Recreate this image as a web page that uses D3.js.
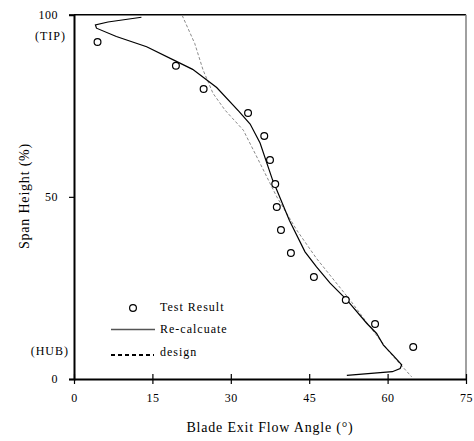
<!DOCTYPE html>
<html>
<head>
<meta charset="utf-8">
<script src="https://cdn.jsdelivr.net/npm/d3@7"></script>
<style>
  body { margin: 0; background: #fff; }
  text { font-family: "Liberation Serif", "Times New Roman", serif; fill: #000; }
</style>
</head>
<body>
<div id="chart"></div>
<script>
// test points: [angle, span]
var testAngle = [4.5, 19.5, 24.8, 33.3, 36.4, 37.5, 38.5, 38.8, 39.6, 41.5, 45.9, 52.0, 57.6, 64.9];
var testSpan  = [92.5, 86.0, 79.6, 73.0, 66.7, 60.1, 53.5, 47.2, 40.9, 34.6, 28.0, 21.7, 15.1, 8.8];

// re-calculated curve
var recalcAngle = [12.9, 6.5, 4.1, 4.3, 8.1, 13.9, 19.0, 22.7, 27.3, 31.6, 33.7, 35.6, 38.0, 38.8, 41.2, 44.2, 46.4, 49.0, 52.2, 56.0, 57.9, 59.2, 61.1, 62.7, 62.4, 60.9, 52.2];
var recalcSpan  = [99.3, 98.0, 97.2, 96.3, 94.0, 91.2, 87.6, 85.0, 80.0, 73.4, 70.0, 64.8, 54.6, 51.9, 43.6, 34.9, 30.8, 26.3, 21.7, 15.3, 12.5, 9.3, 6.4, 3.9, 2.9, 2.0, 1.0];

// design curve
var designAngle = [20.7, 23.1, 24.7, 26.6, 28.9, 32.4, 35.6, 38.8, 42.6, 46.4, 52.8, 56.6, 60.5, 64.6];
var designSpan  = [99.8, 92.1, 84.8, 78.4, 73.8, 68.3, 59.2, 50.0, 40.9, 33.1, 21.7, 14.4, 7.1, 0.6];

var xTicks = [0, 15, 30, 45, 60, 75];
var yTicks = [0, 50, 100];
var legendLabels = ["Test Result", "Re-calcuate", "design"];

var width = 474, height = 441;
var plotLeft = 74, plotRight = 466, plotTop = 14.7, plotBottom = 379;

var svg = d3.select("#chart").append("svg")
    .attr("width", width)
    .attr("height", height);

var x = d3.scaleLinear().domain([0, 75]).range([plotLeft, plotRight]);
var y = d3.scaleLinear().domain([0, 100]).range([plotBottom, plotTop]);

// frame: top black, right grey
svg.append("line")
    .attr("x1", plotLeft).attr("x2", plotRight)
    .attr("y1", plotTop).attr("y2", plotTop)
    .style("stroke", "#000").style("stroke-width", 1.5);
svg.append("line")
    .attr("x1", plotRight).attr("x2", plotRight)
    .attr("y1", plotTop).attr("y2", plotBottom)
    .style("stroke", "#808080").style("stroke-width", 1.5);

// x axis with crossing ticks
var xAxis = svg.append("g").attr("transform", "translate(0," + plotBottom + ")");
xAxis.call(d3.axisBottom(x).tickValues(xTicks).tickSize(0).tickFormat(""));
xAxis.select(".domain").style("stroke", "#000").style("stroke-width", 2);
xAxis.selectAll(".tick").append("line")
    .attr("y1", -5).attr("y2", 5)
    .style("stroke", "#000").style("stroke-width", 1.2);
xAxis.selectAll(".tick").append("text")
    .attr("y", 23)
    .attr("text-anchor", "middle")
    .style("font-size", "12px")
    .style("letter-spacing", "0.5px")
    .text(d => d);

// y axis
var yAxis = svg.append("g").attr("transform", "translate(" + plotLeft + ",0)");
yAxis.call(d3.axisLeft(y).tickValues(yTicks).tickSize(5).tickFormat(""));
yAxis.select(".domain").style("stroke", "#000").style("stroke-width", 2);
yAxis.selectAll(".tick line").style("stroke", "#000").style("stroke-width", 1.2);
yAxis.selectAll(".tick").append("text")
    .attr("x", -16)
    .attr("dy", "0.32em")
    .attr("text-anchor", "end")
    .style("font-size", "12px")
    .style("letter-spacing", "0.5px")
    .text(d => d);

svg.append("text")
    .attr("x", 66).attr("y", y(94))
    .attr("dy", "0.32em")
    .attr("text-anchor", "end")
    .style("font-size", "12px")
    .style("letter-spacing", "1px")
    .text("(TIP)");
svg.append("text")
    .attr("x", 69).attr("y", y(7.6))
    .attr("dy", "0.32em")
    .attr("text-anchor", "end")
    .style("font-size", "12px")
    .style("letter-spacing", "1px")
    .text("(HUB)");

// axis titles
svg.append("text")
    .attr("x", (plotLeft + plotRight) / 2).attr("y", 432)
    .attr("text-anchor", "middle")
    .style("font-size", "14px")
    .style("letter-spacing", "0.8px")
    .text("Blade Exit Flow Angle (°)");
svg.append("text")
    .attr("transform", "translate(29," + 196 + ") rotate(-90)")
    .attr("text-anchor", "middle")
    .style("font-size", "14px")
    .style("letter-spacing", "0.8px")
    .text("Span Height (%)");

var line = d3.line()
    .x(d => x(d[0]))
    .y(d => y(d[1]));

svg.append("path")
    .datum(designAngle.map((a, i) => [a, designSpan[i]]))
    .attr("d", line)
    .style("fill", "none")
    .style("stroke", "#8a8a8a")
    .style("stroke-width", 1)
    .style("stroke-dasharray", "3,2");

svg.append("path")
    .datum(recalcAngle.map((a, i) => [a, recalcSpan[i]]))
    .attr("d", line)
    .style("fill", "none")
    .style("stroke", "#000")
    .style("stroke-width", 1.2);

svg.selectAll(".pt")
    .data(testAngle.map((a, i) => [a, testSpan[i]]))
    .enter()
    .append("circle")
    .attr("class", "pt")
    .attr("cx", d => x(d[0]))
    .attr("cy", d => y(d[1]))
    .attr("r", 3.4)
    .style("fill", "#fff")
    .style("stroke", "#000")
    .style("stroke-width", 1.2);

// legend
var lg = svg.append("g");
lg.append("circle")
    .attr("cx", 133).attr("cy", 308)
    .attr("r", 3.4)
    .style("fill", "#fff").style("stroke", "#000").style("stroke-width", 1.2);
lg.append("line")
    .attr("x1", 111).attr("x2", 155).attr("y1", 329.5).attr("y2", 329.5)
    .style("stroke", "#555").style("stroke-width", 1.5);
lg.append("line")
    .attr("x1", 111).attr("x2", 154).attr("y1", 355).attr("y2", 355)
    .style("stroke", "#000").style("stroke-width", 2)
    .style("stroke-dasharray", "4,3");
lg.selectAll("text")
    .data(legendLabels)
    .enter()
    .append("text")
    .attr("x", 160)
    .attr("y", (d, i) => [307.5, 329.5, 352.5][i])
    .attr("dy", "0.32em")
    .style("font-size", "12px")
    .style("letter-spacing", "1px")
    .text(d => d);
</script>
</body>
</html>
